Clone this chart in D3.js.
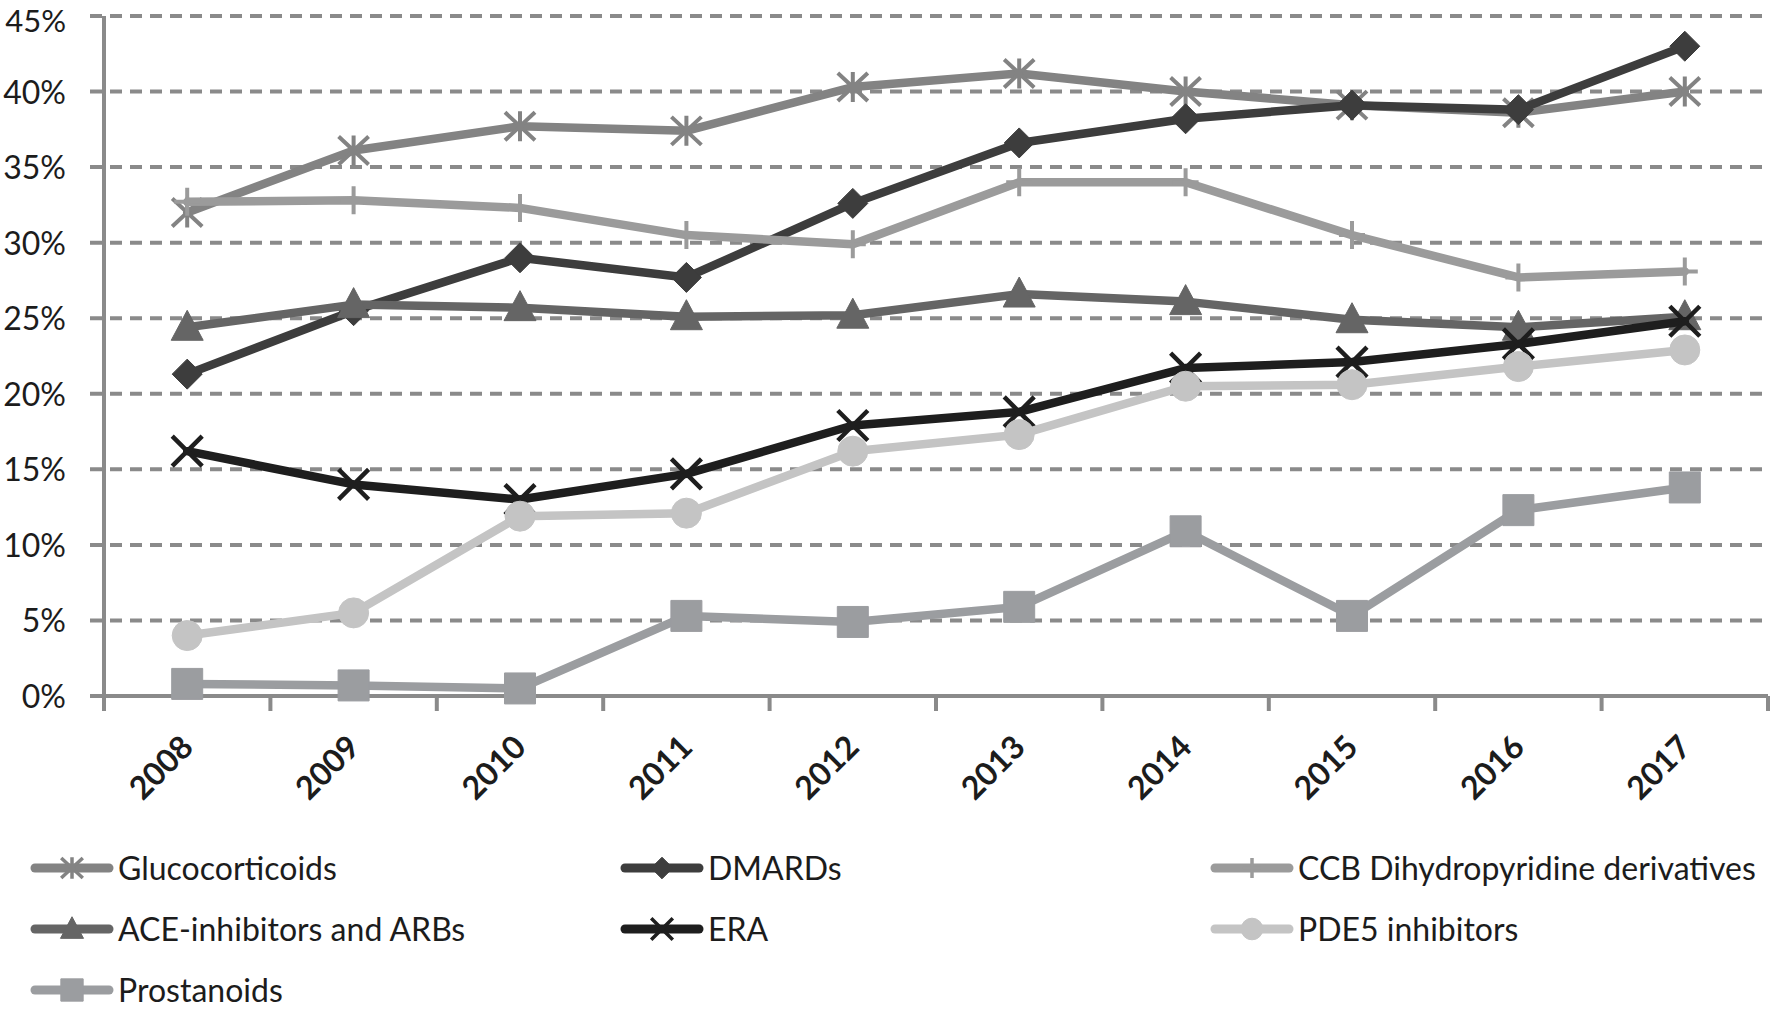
<!DOCTYPE html>
<html>
<head>
<meta charset="utf-8">
<script src="https://cdn.jsdelivr.net/npm/d3@7"></script>
<style>
  html, body { margin: 0; padding: 0; background: #ffffff; }
  svg { display: block; }
  text { font-family: Lato, "Open Sans", sans-serif; fill: #1c1c1c; }
</style>
</head>
<body>
<svg id="chart" width="1776" height="1009"></svg>
<script>
// ---- data ----
const years = ["2008","2009","2010","2011","2012","2013","2014","2015","2016","2017"];
const yTicks = [0, 5, 10, 15, 20, 25, 30, 35, 40, 45];
const seriesNames = ["Glucocorticoids","DMARDs","CCB Dihydropyridine derivatives","ACE-inhibitors and ARBs","ERA","PDE5 inhibitors","Prostanoids"];
const glucocorticoids = [32.0, 36.1, 37.7, 37.4, 40.3, 41.2, 40.0, 39.1, 38.6, 40.0];
const dmards          = [21.3, 25.5, 29.0, 27.7, 32.6, 36.6, 38.2, 39.1, 38.8, 43.0];
const ccb             = [32.7, 32.8, 32.3, 30.5, 29.9, 34.0, 34.0, 30.5, 27.7, 28.1];
const aceArb          = [24.4, 25.9, 25.7, 25.1, 25.2, 26.6, 26.1, 24.9, 24.4, 25.1];
const era             = [16.2, 14.0, 13.0, 14.7, 17.9, 18.8, 21.7, 22.1, 23.3, 24.8];
const pde5            = [4.0, 5.5, 11.9, 12.1, 16.2, 17.3, 20.5, 20.6, 21.8, 22.9];
const prostanoids     = [0.8, 0.7, 0.5, 5.3, 4.9, 5.9, 10.9, 5.3, 12.3, 13.8];

// ---- styles ----
const styles = [
  {color: "#838383", marker: "asterisk"},
  {color: "#3d3d3d", marker: "diamond"},
  {color: "#9b9b9b", marker: "plus"},
  {color: "#656565", marker: "triangle"},
  {color: "#1e1e1e", marker: "x"},
  {color: "#c4c4c4", marker: "circle"},
  {color: "#9b9da0", marker: "square"}
];
const values = [glucocorticoids, dmards, ccb, aceArb, era, pde5, prostanoids];
const series = seriesNames.map((name, i) => ({name, values: values[i], ...styles[i]}));

const svg = d3.select("#chart");
const plotLeft = 104, plotRight = 1768, plotTop = 16, plotBottom = 696;

const x = d3.scaleBand().domain(years).range([plotLeft, plotRight]).paddingInner(0).paddingOuter(0);
const y = d3.scaleLinear().domain([0, 45]).range([plotBottom, plotTop]);
const cx = d => x(d) + x.bandwidth() / 2;

// gridlines
svg.append("g").selectAll("line").data(yTicks.filter(t => t > 0)).join("line")
  .attr("x1", plotLeft - 14).attr("x2", plotRight)
  .attr("y1", d => y(d)).attr("y2", d => y(d))
  .attr("stroke", "#8a8a8a").attr("stroke-width", 4)
  .attr("stroke-dasharray", "12 8");

// y axis labels
const yAxis = d3.axisLeft(y).tickValues(yTicks).tickFormat(d => d + "%").tickSize(0).tickPadding(38);
const yg = svg.append("g").attr("transform", `translate(${plotLeft},0)`).call(yAxis);
yg.select(".domain").remove();
yg.selectAll("text").attr("font-size", d => d === 45 ? 31 : 32).attr("fill", "#1c1c1c")
  .attr("font-family", "Lato, 'Open Sans', sans-serif")
  .attr("dy", d => d === 45 ? "0.5em" : "0.36em");

// zero line small left tick
svg.append("line").attr("x1", plotLeft - 14).attr("x2", plotLeft).attr("y1", plotBottom).attr("y2", plotBottom)
  .attr("stroke", "#8a8a8a").attr("stroke-width", 4);

// y axis line
svg.append("line").attr("x1", plotLeft).attr("x2", plotLeft).attr("y1", plotTop).attr("y2", plotBottom + 2)
  .attr("stroke", "#8a8a8a").attr("stroke-width", 4);
// x axis line
svg.append("line").attr("x1", plotLeft).attr("x2", plotRight).attr("y1", plotBottom).attr("y2", plotBottom)
  .attr("stroke", "#8a8a8a").attr("stroke-width", 4);
// x boundary ticks
const bounds = years.map(d => x(d)).concat([plotRight]);
svg.append("g").selectAll("line").data(bounds).join("line")
  .attr("x1", d => d).attr("x2", d => d).attr("y1", plotBottom).attr("y2", plotBottom + 15)
  .attr("stroke", "#8a8a8a").attr("stroke-width", 4);

// x labels
svg.append("g").selectAll("text").data(years).join("text")
  .attr("transform", d => `translate(${cx(d) + 8},749) rotate(-45)`)
  .attr("text-anchor", "end").attr("font-size", 32).attr("font-weight", "bold")
  .text(d => d);

// marker path generator (shape only, centered at 0,0)
function markerPath(type, s) {
  const r = 15 * s;
  switch (type) {
    case "diamond": return `M0,${-r}L${r},0L0,${r}L${-r},0Z`;
    case "triangle": return `M0,${-17*s}L${16*s},${13*s}L${-16*s},${13*s}Z`;
    case "square": { const h = 15.5*s; return `M${-h},${-h}H${h}V${h}H${-h}Z`; }
    case "circle": return `M${r},0A${r},${r} 0 1,1 ${-r},0A${r},${r} 0 1,1 ${r},0Z`;
    case "asterisk": return `M0,${-r}V${r}M${-r},${-14*s}L${r},${14*s}M${-r},${14*s}L${r},${-14*s}`;
    case "x": return `M${-r},${-r}L${r},${r}M${-r},${r}L${r},${-r}`;
    case "plus": return `M0,${-14*s}V${14*s}M${-13*s},0H${13*s}`;
  }
}
const filled = t => ["diamond","triangle","square","circle"].includes(t);

const line = d3.line().x(d => cx(d.year)).y(d => y(d.v));

series.forEach(s => {
  const pts = s.values.map((v, i) => ({year: years[i], v}));
  const g = svg.append("g");
  g.append("path").datum(pts).attr("d", line)
    .attr("fill", "none").attr("stroke", s.color).attr("stroke-width", 8.5)
    .attr("stroke-linejoin", "round").attr("stroke-linecap", "round");
  g.selectAll("path.m").data(pts).join("path").attr("class", "m")
    .attr("transform", d => `translate(${cx(d.year)},${y(d.v)})`)
    .attr("d", markerPath(s.marker, 1))
    .attr("fill", filled(s.marker) ? s.color : "none")
    .attr("stroke", s.color)
    .attr("stroke-width", filled(s.marker) ? 1 : (s.marker === "x" ? 4.5 : 4))
    .attr("stroke-linejoin", "round");
});

// legend
const colX = [31, 621, 1211];
const rowY = [868, 929, 990];
const lg = svg.append("g");
series.forEach((s, i) => {
  const col = i % 3, row = Math.floor(i / 3);
  const x0 = colX[col], yy = rowY[row];
  const item = lg.append("g").attr("transform", `translate(${x0},${yy})`);
  item.append("line").attr("x1", 4).attr("x2", 78).attr("y1", 0).attr("y2", 0)
    .attr("stroke", s.color).attr("stroke-width", 9).attr("stroke-linecap", "round");
  item.append("path").attr("transform", "translate(41,0)")
    .attr("d", markerPath(s.marker, 0.72))
    .attr("fill", filled(s.marker) ? s.color : "none")
    .attr("stroke", s.color).attr("stroke-width", filled(s.marker) ? 1 : 3.5);
  item.append("text").attr("x", 87).attr("y", 11.5).attr("font-size", 32).text(s.name);
});
</script>
</body>
</html>
